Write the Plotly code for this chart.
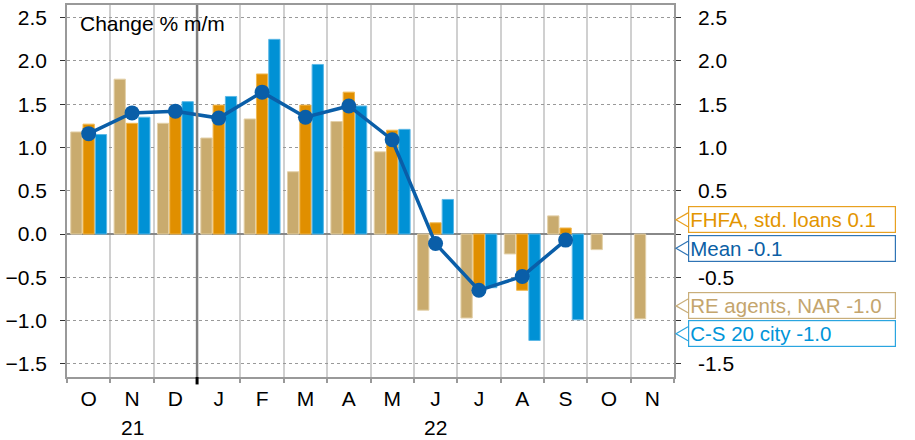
import plotly.graph_objects as go

months = ["O", "N", "D", "J", "F", "M", "A", "M", "J", "J", "A", "S", "O", "N"]
year_labels = ["21", "22"]
year_spans = [(0, 2), (3, 13)]
re_agents = [1.18, 1.79, 1.28, 1.11, 1.33, 0.72, 1.30, 0.95, -0.88, -0.97, -0.23, 0.21, -0.18, -0.98]
fhfa = [1.27, 1.28, 1.42, 1.49, 1.85, 1.49, 1.64, 1.20, 0.13, -0.62, -0.65, 0.07, None, None]
cs20 = [1.15, 1.35, 1.53, 1.59, 2.25, 1.96, 1.48, 1.21, 0.40, -0.62, -1.23, -0.99, None, None]
mean = [1.16, 1.40, 1.42, 1.34, 1.64, 1.35, 1.48, 1.09, -0.11, -0.65, -0.49, -0.07, None, None]
yticks = [-1.5, -1.0, -0.5, 0.0, 0.5, 1.0, 1.5, 2.0, 2.5]
# right-axis labels hidden behind the value callouts in the reference
right_hidden = [0.0, -1.0]

C_TAN = "#C9AB6E"
C_ORG = "#E08F00"
C_BLU = "#0091D5"
C_MEAN = "#0A5EA8"
FONT = "Liberation Sans, Arial, sans-serif"
FS = 21

x = list(range(len(months)))

fig = go.Figure()
fig.add_bar(x=x, y=re_agents, marker=dict(color=C_TAN, line=dict(color="#E3D0A8", width=1)), name="RE agents, NAR")
fig.add_bar(x=x, y=fhfa, marker=dict(color=C_ORG, line=dict(color="#F0B850", width=1)), name="FHFA, std. loans")
fig.add_bar(x=x, y=cs20, marker=dict(color=C_BLU, line=dict(color="#5CB8E6", width=1)), name="C-S 20 city")
fig.add_scatter(x=x, y=mean, mode="lines+markers", yaxis="y2", name="Mean",
                line=dict(color=C_MEAN, width=3.5), marker=dict(color=C_MEAN, size=15))

yr = [-1.652, 2.647]
L, R, T, B = 67, 241, 3, 63
W, H = 915, 440
pw, ph = W - L - R, H - T - B

def px2paper_x(px):
    return (px - L) / pw

def py2paper_y(py):
    return (H - B - py) / ph

right_text = ["" if v in right_hidden else f"{v:.1f}" for v in yticks]

fig.update_layout(
    width=W, height=H, margin=dict(l=L, r=R, t=T, b=B),
    paper_bgcolor="white", plot_bgcolor="white",
    barmode="group", bargap=0.15, bargroupgap=0.08,
    showlegend=False,
    font=dict(family=FONT, size=FS, color="#000"),
    xaxis=dict(range=[-0.5, len(months) - 0.5], tickmode="array", tickvals=x, ticktext=months,
               ticks="", showgrid=False, showline=True, linecolor="#999", linewidth=1.5, mirror=True,
               ticklabelstandoff=2, zeroline=False,
               minor=dict(tick0=-0.5, dtick=1, showgrid=True, gridcolor="#D0D0D0", gridwidth=1.5,
                          ticks="outside", ticklen=4, tickcolor="#999", tickwidth=1.5)),
    yaxis=dict(range=yr, tickmode="array", tickvals=yticks, tickformat=".1f",
               showgrid=True, gridcolor="#999", griddash="dot", gridwidth=1,
               zeroline=True, zerolinecolor="#888", zerolinewidth=2,
               showline=True, linecolor="#999", linewidth=1.5,
               ticks="outside", ticklen=5, tickcolor="#333", ticklabelstandoff=9),
    yaxis2=dict(range=yr, matches="y", overlaying="y", side="right", tickmode="array", tickvals=yticks,
                ticktext=right_text, showgrid=False, zeroline=False,
                showline=True, linecolor="#999", linewidth=1.5,
                ticks="outside", ticklen=5, tickcolor="#333", ticklabelstandoff=13),
)

# year separator
sep = year_spans[0][1] + 0.5
fig.add_shape(type="line", xref="x", yref="paper", x0=sep, x1=sep, y0=0, y1=1,
              line=dict(color="#808080", width=2.5))
fig.add_shape(type="line", xref="x", yref="paper", x0=sep, x1=sep, y0=-0.02, y1=0,
              line=dict(color="#000", width=3))

for lab, (a, b) in zip(year_labels, year_spans):
    fig.add_annotation(x=(a + b) / 2, y=py2paper_y(428), xref="x", yref="paper", text=lab,
                       showarrow=False, font=dict(size=FS), xanchor="center", yanchor="middle")

fig.add_annotation(x=px2paper_x(78), y=py2paper_y(22), xref="paper", yref="paper",
                   text="Change % m/m", showarrow=False, xanchor="left", yanchor="middle",
                   font=dict(size=FS))

def last(vals):
    return [v for v in vals if v is not None][-1]

labels = [
    ("FHFA, std. loans", fhfa, "#E39500", "#E8A020", 219),
    ("Mean", mean, "#0B5FA5", "#2F74B5", 247.5),
    ("RE agents, NAR", re_agents, "#C4A56D", "#C9AE7A", 305.5),
    ("C-S 20 city", cs20, "#0095D9", "#2AA5E0", 333.5),
]
box_left = 688
for name, vals, tcol, bcol, cy in labels:
    fig.add_annotation(x=px2paper_x(box_left), y=py2paper_y(cy), xref="paper", yref="paper",
                       text=f"{name} {last(vals):.1f}", showarrow=False, xanchor="left", yanchor="middle",
                       align="left", width=204, height=23, borderpad=1, bordercolor=bcol, borderwidth=1.2,
                       bgcolor="white", font=dict(size=20.5, color=tcol))
    tipx = px2paper_x(676)
    bx = px2paper_x(box_left)
    ty = py2paper_y(cy)
    dy = 7 / ph
    fig.add_shape(type="path", xref="paper", yref="paper",
                  path=f"M {bx},{ty + dy} L {tipx},{ty} L {bx},{ty - dy}",
                  line=dict(color=bcol, width=1.2))

fig.write_html("out.html")
